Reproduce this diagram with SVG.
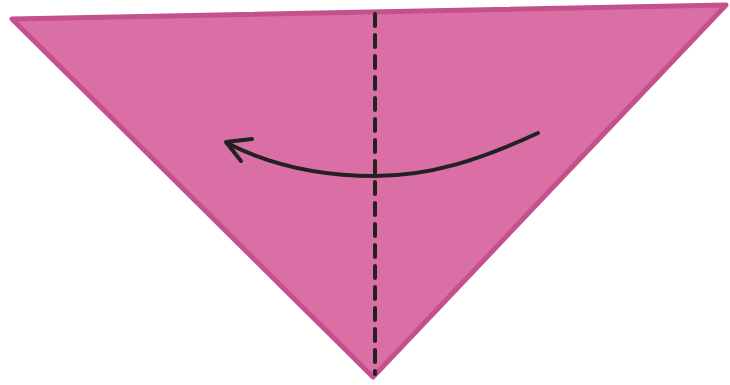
<svg xmlns="http://www.w3.org/2000/svg" width="730" height="385" viewBox="0 0 730 385">
<style>
.paper{fill:#d96fa4;stroke:#c4518c;stroke-width:5;stroke-linejoin:round}
.fold{fill:none;stroke:#222;stroke-width:4;stroke-dasharray:12,9;stroke-linecap:round}
.arrow{fill:none;stroke:#222;stroke-width:4;stroke-linecap:round;stroke-linejoin:round}
</style>
<rect width="730" height="385" fill="#fff"/>
<polygon class="paper" points="12,19 726,5 373,377"/>
<line class="fold" x1="375" y1="14" x2="375" y2="374"/>
<path class="arrow" d="M538,133 C480,160 430,176 375,176 C320,176 270,165 227,143"/>
<path class="arrow" d="M252,139 L226,142 L241,161"/>
</svg>
